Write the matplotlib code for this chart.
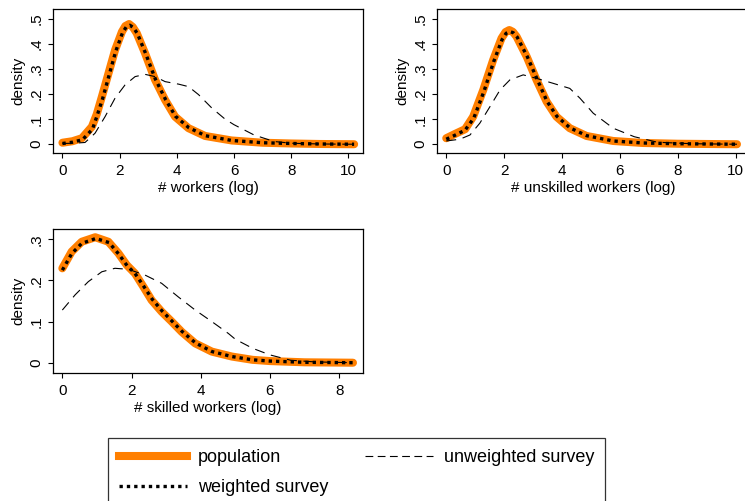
import matplotlib.pyplot as plt
from matplotlib.lines import Line2D

plt.rcParams['font.family'] = ['Liberation Sans', 'DejaVu Sans']

# panel 1: # workers (log)
w_x_pop = [0, 0.35, 0.68, 1.03, 1.2, 1.38, 1.61, 1.84, 2.08, 2.2, 2.33, 2.46, 2.6, 2.89, 3.24, 3.59, 3.94, 4.41, 4.99, 5.92, 7.0, 8.0, 9.0, 10.2]
w_y_pop = [0.006, 0.012, 0.024, 0.07, 0.12, 0.19, 0.283, 0.376, 0.449, 0.472, 0.48, 0.468, 0.443, 0.363, 0.257, 0.177, 0.11, 0.064, 0.033, 0.015, 0.006, 0.003, 0.001, 0.0]
w_x_wgt = [0, 0.35, 0.7, 1.05, 1.2, 1.4, 1.63, 1.86, 2.1, 2.23, 2.36, 2.48, 2.62, 2.9, 3.25, 3.6, 3.95, 4.42, 5.0, 5.92, 7.0, 8.0, 9.0, 10.2]
w_y_wgt = [0.003, 0.008, 0.018, 0.06, 0.11, 0.18, 0.275, 0.37, 0.445, 0.468, 0.475, 0.466, 0.442, 0.365, 0.26, 0.18, 0.112, 0.066, 0.034, 0.015, 0.006, 0.003, 0.001, 0.0]
w_x_unw = [0, 0.4, 0.79, 1.14, 1.49, 1.84, 2.19, 2.54, 2.89, 3.24, 3.59, 4.06, 4.41, 4.76, 5.22, 5.69, 6.0, 6.7, 7.4, 8.0, 9.0, 10.2]
w_y_unw = [0.003, 0.004, 0.007, 0.044, 0.11, 0.184, 0.237, 0.27, 0.279, 0.27, 0.25, 0.24, 0.23, 0.198, 0.145, 0.1, 0.078, 0.037, 0.011, 0.004, 0.001, 0.0]

# panel 2: # unskilled workers (log)
u_x_pop = [0.0, 0.3, 0.65, 0.93, 1.28, 1.62, 1.91, 2.05, 2.18, 2.3, 2.43, 2.78, 3.12, 3.47, 3.81, 4.27, 4.85, 5.77, 6.8, 8.0, 9.0, 10.05]
u_y_pop = [0.024, 0.041, 0.06, 0.11, 0.217, 0.336, 0.423, 0.448, 0.456, 0.449, 0.43, 0.35, 0.257, 0.17, 0.11, 0.064, 0.033, 0.013, 0.005, 0.002, 0.001, 0.0]
u_x_wgt = [0.0, 0.3, 0.65, 0.95, 1.3, 1.64, 1.93, 2.07, 2.2, 2.32, 2.45, 2.8, 3.14, 3.48, 3.82, 4.28, 4.86, 5.77, 6.8, 8.0, 9.0, 10.05]
u_y_wgt = [0.02, 0.036, 0.056, 0.104, 0.21, 0.33, 0.418, 0.443, 0.45, 0.445, 0.428, 0.35, 0.26, 0.172, 0.112, 0.065, 0.034, 0.013, 0.005, 0.002, 0.001, 0.0]
u_x_unw = [0.0, 0.47, 0.82, 1.16, 1.51, 1.86, 2.2, 2.66, 3.12, 3.7, 4.27, 4.62, 5.08, 5.77, 6.5, 7.3, 8.5, 10.05]
u_y_unw = [0.013, 0.02, 0.037, 0.084, 0.15, 0.217, 0.257, 0.277, 0.263, 0.243, 0.223, 0.184, 0.124, 0.064, 0.03, 0.008, 0.002, 0.0]

# panel 3: # skilled workers (log)
s_x_pop = [0, 0.27, 0.56, 0.95, 1.33, 1.62, 1.86, 2.1, 2.34, 2.58, 2.87, 3.16, 3.45, 3.84, 4.32, 4.9, 5.5, 6.0, 7.0, 8.4]
s_y_pop = [0.2295, 0.27, 0.294, 0.305, 0.294, 0.266, 0.2375, 0.217, 0.185, 0.152, 0.124, 0.1, 0.075, 0.047, 0.027, 0.015, 0.007, 0.004, 0.001, 0.0]
s_x_wgt = [0, 0.27, 0.56, 0.97, 1.35, 1.63, 1.87, 2.1, 2.35, 2.6, 2.88, 3.17, 3.46, 3.85, 4.33, 4.9, 5.5, 6.0, 7.0, 8.4]
s_y_wgt = [0.225, 0.265, 0.29, 0.302, 0.292, 0.264, 0.236, 0.217, 0.186, 0.154, 0.126, 0.101, 0.076, 0.048, 0.027, 0.015, 0.007, 0.004, 0.001, 0.0]
s_x_unw = [0, 0.37, 0.75, 1.14, 1.52, 1.91, 2.39, 2.87, 3.35, 3.84, 4.32, 4.8, 5.0, 5.5, 6.0, 6.6, 7.3, 8.4]
s_y_unw = [0.128, 0.165, 0.197, 0.221, 0.2295, 0.227, 0.213, 0.193, 0.16, 0.128, 0.1, 0.071, 0.057, 0.035, 0.019, 0.006, 0.002, 0.0]

labels = ['population', 'weighted survey', 'unweighted survey']
orange = '#ff7f00'

W, H = 745, 501
fig = plt.figure(figsize=(W / 100, H / 100), dpi=100)


def pix_axes(left, top, right, bottom):
    return fig.add_axes([left / W, 1 - bottom / H, (right - left) / W, (bottom - top) / H])


def panel(ax, pop, wgt, unw, xlabel, xlim, ylim, xticks, yticks):
    ax.plot(pop[0], pop[1], color=orange, lw=5.8, solid_capstyle='round', solid_joinstyle='round')
    ax.plot(wgt[0], wgt[1], color='black', lw=2.4, linestyle=(0, (1, 1.2)))
    ax.plot(unw[0], unw[1], color='black', lw=0.8, linestyle=(0, (9, 6)))
    ax.set_xlim(xlim)
    ax.set_ylim(ylim)
    ax.set_xticks(xticks)
    ax.set_yticks(yticks)
    ax.set_yticklabels(['0' if t == 0 else ('%.1f' % t).lstrip('0') for t in yticks],
                       rotation=90, va='center')
    ax.tick_params(labelsize=11, length=3.6, width=0.8)
    ax.tick_params(axis='x', pad=4.5)
    ax.tick_params(axis='y', pad=3)
    ax.set_xlabel(xlabel, fontsize=11, labelpad=2)
    ax.set_ylabel('density', fontsize=11, labelpad=3)
    for s in ax.spines.values():
        s.set_linewidth(0.9)


ax1 = pix_axes(53, 9, 363, 153)
panel(ax1, (w_x_pop, w_y_pop), (w_x_wgt, w_y_wgt), (w_x_unw, w_y_unw),
      '# workers (log)', (-0.33, 10.51), (-0.035, 0.54), [0, 2, 4, 6, 8, 10], [0, 0.1, 0.2, 0.3, 0.4, 0.5])

ax2 = pix_axes(437, 9, 750, 153)
panel(ax2, (u_x_pop, u_y_pop), (u_x_wgt, u_y_wgt), (u_x_unw, u_y_unw),
      '# unskilled workers (log)', (-0.32, 10.5), (-0.035, 0.54), [0, 2, 4, 6, 8, 10], [0, 0.1, 0.2, 0.3, 0.4, 0.5])

ax3 = pix_axes(53, 229, 363, 373)
panel(ax3, (s_x_pop, s_y_pop), (s_x_wgt, s_y_wgt), (s_x_unw, s_y_unw),
      '# skilled workers (log)', (-0.27, 8.69), (-0.025, 0.325), [0, 2, 4, 6, 8], [0, 0.1, 0.2, 0.3])

handles = [
    Line2D([], [], color=orange, lw=5.8),
    Line2D([], [], color='black', lw=2.4, linestyle=(0, (1, 1.2))),
    Line2D([], [], color='black', lw=0.8, linestyle=(0, (7, 4))),
]
leg = fig.legend(handles, [labels[0], labels[1], labels[2]], ncol=2,
                 loc='upper left', bbox_to_anchor=(108 / W, 1 - 438 / H),
                 fontsize=13, frameon=True, fancybox=False, borderaxespad=0,
                 handlelength=3.8, handletextpad=0.6, columnspacing=2.0,
                 labelspacing=0.72, borderpad=0.6)
leg.get_frame().set_edgecolor('black')
leg.get_frame().set_linewidth(0.9)

fig.savefig('out.png', dpi=100)
